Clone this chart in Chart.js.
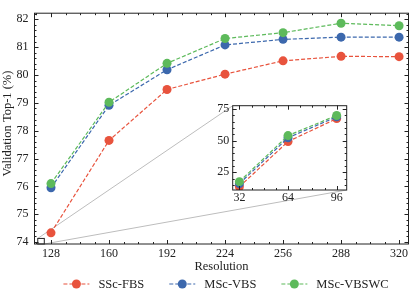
<!DOCTYPE html>
<html>
<head>
<meta charset="utf-8">
<script src="https://cdn.jsdelivr.net/npm/chart.js@4.4.1/dist/chart.umd.min.js"></script>
<style>
  html, body { margin: 0; padding: 0; background: #fff; }
  #wrap { position: relative; width: 416px; height: 299px; }
  #main { position: absolute; left: 0; top: 0; }
  #inset { position: absolute; left: 200px; top: 95px; }
</style>
</head>
<body>
<div id="wrap">
  <canvas id="main" width="416" height="299"></canvas>
  <canvas id="inset" width="160" height="110"></canvas>
</div>
<script>
'use strict';
// ******* DATA ********
let resolutions = [128, 160, 192, 224, 256, 288, 320];
let sscFbs = [74.33, 77.65, 79.48, 80.03, 80.51, 80.67, 80.66];
let mscVbs = [75.95, 78.91, 80.19, 81.08, 81.28, 81.36, 81.36];
let mscVbswc = [76.10, 79.02, 80.42, 81.31, 81.52, 81.86, 81.77];
let yTicks = [74, 75, 76, 77, 78, 79, 80, 81, 82];

let insetRes = [32, 64, 96];
let insetSscFbs = [13.6, 49.3, 67.4];
let insetMscVbs = [16.0, 52.3, 68.8];
let insetMscVbswc = [17.6, 54.0, 69.9];
let insetYTicks = [25, 50, 75];

let seriesNames = ['SSc-FBS', 'MSc-VBS', 'MSc-VBSWC'];
let seriesColors = ['#e8533d', '#3c68ad', '#5dba5b'];
let yTitle = 'Validation Top-1 (%)';

// zoom box drawn on the main axes (data units)
let zoomBoxX = [120.7, 124.3];
let zoomBoxY = [73.93, 74.13];

// ******* STYLE ********
Chart.defaults.font.family = '"Liberation Serif", "Times New Roman", serif';
Chart.defaults.color = '#222';
const INK = '#222';
const SERIF = '"Liberation Serif", "Times New Roman", serif';

function makeSets(xs, seriesList) {
  return seriesList.map(function (ys, i) {
    return {
      label: seriesNames[i],
      data: xs.map(function (x, j) { return { x: x, y: ys[j] }; }),
      borderColor: seriesColors[i],
      backgroundColor: seriesColors[i],
      pointBackgroundColor: seriesColors[i],
      borderWidth: 1.2,
      borderDash: [4, 2],
      pointRadius: 4.5,
      pointBorderWidth: 0,
      pointHoverRadius: 4.5,
      tension: 0,
      order: 3 - i
    };
  });
}

// frame + inward major/minor ticks on all four sides
function frameTicks(xMajor, xMinorStep, yMajor, yMinorStep) {
  return {
    id: 'frameTicks',
    afterDraw: function (chart) {
      const ctx = chart.ctx;
      const a = chart.chartArea;
      const xs = chart.scales.x;
      const ys = chart.scales.y;
      ctx.save();
      ctx.strokeStyle = INK;
      ctx.lineWidth = 1;
      ctx.strokeRect(a.left, a.top, a.right - a.left, a.bottom - a.top);
      ctx.beginPath();
      function xt(v, len) {
        const p = Math.round(xs.getPixelForValue(v)) + 0.5;
        ctx.moveTo(p, a.bottom); ctx.lineTo(p, a.bottom - len);
        ctx.moveTo(p, a.top); ctx.lineTo(p, a.top + len);
      }
      function yt(v, len) {
        const p = Math.round(ys.getPixelForValue(v)) + 0.5;
        ctx.moveTo(a.left, p); ctx.lineTo(a.left + len, p);
        ctx.moveTo(a.right, p); ctx.lineTo(a.right - len, p);
      }
      for (let v = Math.ceil(xs.min / xMinorStep) * xMinorStep; v <= xs.max; v += xMinorStep) xt(v, 2);
      xMajor.forEach(function (v) { xt(v, 4); });
      const n0 = Math.ceil(ys.min / yMinorStep - 1e-6);
      for (let k = n0; k * yMinorStep <= ys.max; k++) yt(k * yMinorStep, 2);
      yMajor.forEach(function (v) { yt(v, 4); });
      ctx.stroke();
      ctx.restore();
    }
  };
}

// ******* INSET CHART ********
let insetCanvas = document.getElementById('inset');
let insetChart = new Chart(insetCanvas, {
  type: 'line',
  data: { datasets: makeSets(insetRes, [insetSscFbs, insetMscVbs, insetMscVbswc]) },
  options: {
    responsive: false,
    animation: false,
    events: [],
    layout: { padding: { top: 10.7, right: 13.3, bottom: 0, left: 0 } },
    plugins: { legend: { display: false }, tooltip: { enabled: false } },
    scales: {
      x: {
        type: 'linear', min: 27.6, max: 102.6,
        grid: { display: false, drawTicks: false }, border: { display: false },
        ticks: { padding: 1, font: { size: 12 }, maxRotation: 0 },
        afterBuildTicks: function (s) { s.ticks = insetRes.map(function (v) { return { value: v }; }); },
        afterFit: function (s) { s.height = 15; }
      },
      y: {
        min: 11, max: 77.6,
        grid: { display: false, drawTicks: false }, border: { display: false },
        ticks: { padding: 3.5, font: { size: 12 } },
        afterBuildTicks: function (s) { s.ticks = insetYTicks.map(function (v) { return { value: v }; }); },
        afterFit: function (s) { s.width = 32.7; }
      }
    }
  },
  plugins: [
    {
      id: 'whiteBg',
      beforeDraw: function (chart) {
        const a = chart.chartArea;
        chart.ctx.save();
        chart.ctx.fillStyle = '#fff';
        chart.ctx.fillRect(a.left, a.top, a.right - a.left, a.bottom - a.top);
        chart.ctx.restore();
      }
    },
    frameTicks(insetRes, 8, insetYTicks, 5)
  ]
});

// ******* MAIN CHART ********
let connectors = {
  id: 'connectors',
  beforeDatasetsDraw: function (chart) {
    const ctx = chart.ctx;
    const xs = chart.scales.x;
    const ys = chart.scales.y;
    const x0 = xs.getPixelForValue(zoomBoxX[0]);
    const x1 = xs.getPixelForValue(zoomBoxX[1]);
    const y0 = ys.getPixelForValue(zoomBoxY[1]);
    const y1 = ys.getPixelForValue(zoomBoxY[0]);
    const ia = insetChart.chartArea;
    const ox = insetCanvas.offsetLeft;
    const oy = insetCanvas.offsetTop;
    ctx.save();
    ctx.strokeStyle = '#bdbdbd';
    ctx.lineWidth = 1;
    ctx.beginPath();
    ctx.moveTo(x0, y0); ctx.lineTo(ox + ia.left, oy + ia.top);
    ctx.moveTo(x1, y1); ctx.lineTo(ox + ia.right, oy + ia.bottom);
    ctx.stroke();
    ctx.strokeStyle = INK;
    ctx.strokeRect(x0, y0, x1 - x0, y1 - y0);
    ctx.restore();
  }
};

// y title a little above the axis centre, as in the source figure
let sideTitle = {
  id: 'sideTitle',
  afterDraw: function (chart) {
    const ctx = chart.ctx;
    const a = chart.chartArea;
    ctx.save();
    ctx.font = '12.5px ' + SERIF;
    ctx.fillStyle = INK;
    ctx.textAlign = 'center';
    ctx.textBaseline = 'middle';
    ctx.translate(7.5, (a.top + a.bottom) / 2 - 5);
    ctx.rotate(-Math.PI / 2);
    ctx.fillText(yTitle, 0, 0);
    ctx.restore();
  }
};

let bottomLegend = {
  id: 'bottomLegend',
  afterDraw: function (chart) {
    const ctx = chart.ctx;
    const y = 284;
    const lineLen = 26, textGap = 9, itemGap = 25;
    ctx.save();
    ctx.font = '12.5px ' + SERIF;
    const widths = seriesNames.map(function (n) { return ctx.measureText(n).width; });
    let total = 0;
    widths.forEach(function (w, i) { total += lineLen + textGap + w + (i < widths.length - 1 ? itemGap : 0); });
    let x = 226 - total / 2;
    chart.data.datasets.forEach(function (ds, i) {
      ctx.strokeStyle = ds.borderColor;
      ctx.lineWidth = 1.2;
      ctx.setLineDash([4, 2]);
      ctx.beginPath();
      ctx.moveTo(x, y); ctx.lineTo(x + lineLen, y);
      ctx.stroke();
      ctx.setLineDash([]);
      ctx.fillStyle = ds.borderColor;
      ctx.beginPath();
      ctx.arc(x + lineLen / 2, y, 4.5, 0, Math.PI * 2);
      ctx.fill();
      ctx.fillStyle = INK;
      ctx.textBaseline = 'middle';
      ctx.fillText(ds.label, x + lineLen + textGap, y + 0.5);
      x += lineLen + textGap + widths[i] + itemGap;
    });
    ctx.restore();
  }
};

let mainChart = new Chart(document.getElementById('main'), {
  type: 'line',
  data: { datasets: makeSets(resolutions, [sscFbs, mscVbs, mscVbswc]) },
  options: {
    responsive: false,
    animation: false,
    events: [],
    layout: { padding: { top: 3.5, right: 7.5, bottom: 25, left: 0 } },
    plugins: { legend: { display: false }, tooltip: { enabled: false } },
    scales: {
      x: {
        type: 'linear', min: 118.9, max: 325.2,
        grid: { display: false, drawTicks: false }, border: { display: false },
        ticks: { padding: 2.5, font: { size: 12 }, maxRotation: 0 },
        title: { display: true, text: 'Resolution', font: { size: 12.5 }, padding: 0 },
        afterBuildTicks: function (s) { s.ticks = resolutions.map(function (v) { return { value: v }; }); },
        afterFit: function (s) { s.height = 30; }
      },
      y: {
        min: 73.93, max: 82.22,
        grid: { display: false, drawTicks: false }, border: { display: false },
        ticks: { padding: 6, font: { size: 12 } },
        afterBuildTicks: function (s) { s.ticks = yTicks.map(function (v) { return { value: v }; }); },
        afterFit: function (s) { s.width = 34.5; }
      }
    }
  },
  plugins: [connectors, frameTicks(resolutions, 8, yTicks, 0.2), sideTitle, bottomLegend]
});
</script>
</body>
</html>
